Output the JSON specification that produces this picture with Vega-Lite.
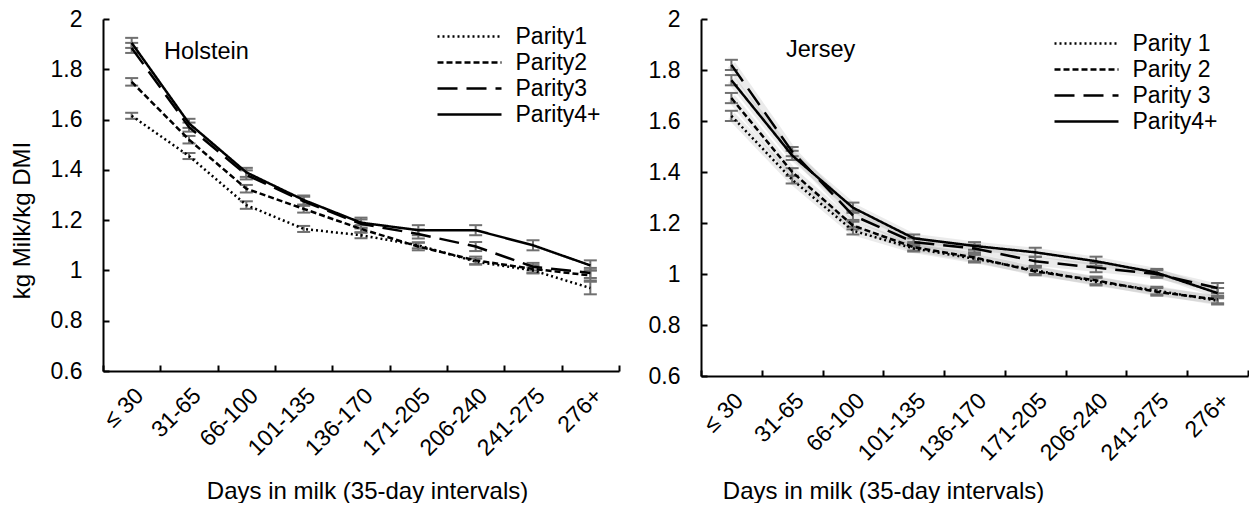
{
  "$schema": "https://vega.github.io/schema/vega-lite/v6.json",
  "background": "white",
  "padding": {"left": 10, "top": 8, "right": 0, "bottom": 0},
  "spacing": 28,
  "config": {
    "view": {"stroke": null},
    "font": "Liberation Sans",
    "axis": {
      "domainColor": "black", "domainWidth": 2, "tickColor": "black", "tickWidth": 2, "tickSize": -6,
      "labelFontSize": 23, "labelColor": "black", "titleFontSize": 24, "titleFontWeight": "normal", "titleColor": "black",
      "grid": false, "labelFont": "Liberation Sans", "titleFont": "Liberation Sans"
    },
    "legend": {
      "orient": "none", "title": null, "symbolType": "M-2.56,0H2.56", "symbolSize": 625, "symbolStrokeWidth": 2.5,
      "symbolStrokeColor": "black", "symbolFillColor": "transparent", "labelFontSize": 23, "labelColor": "black", "labelOffset": 32, "rowPadding": 0,
      "padding": 0, "labelFont": "Liberation Sans"
    },
    "title": {"fontSize": 23.5, "fontWeight": "normal", "color": "black", "font": "Liberation Sans"}
  },
  "datasets": {
    "holstein": [
      {"d": "≤ 30", "p": "Parity1", "v": 1.615, "lo": 1.603, "hi": 1.627},
      {"d": "31-65", "p": "Parity1", "v": 1.455, "lo": 1.443, "hi": 1.467},
      {"d": "66-100", "p": "Parity1", "v": 1.26, "lo": 1.245, "hi": 1.275},
      {"d": "101-135", "p": "Parity1", "v": 1.165, "lo": 1.153, "hi": 1.177},
      {"d": "136-170", "p": "Parity1", "v": 1.14, "lo": 1.128, "hi": 1.152},
      {"d": "171-205", "p": "Parity1", "v": 1.1, "lo": 1.088, "hi": 1.112},
      {"d": "206-240", "p": "Parity1", "v": 1.035, "lo": 1.023, "hi": 1.047},
      {"d": "241-275", "p": "Parity1", "v": 1.0, "lo": 0.988, "hi": 1.012},
      {"d": "276+", "p": "Parity1", "v": 0.93, "lo": 0.905, "hi": 0.955},
      {"d": "≤ 30", "p": "Parity2", "v": 1.75, "lo": 1.735, "hi": 1.765},
      {"d": "31-65", "p": "Parity2", "v": 1.52, "lo": 1.505, "hi": 1.535},
      {"d": "66-100", "p": "Parity2", "v": 1.325, "lo": 1.31, "hi": 1.34},
      {"d": "101-135", "p": "Parity2", "v": 1.245, "lo": 1.23, "hi": 1.26},
      {"d": "136-170", "p": "Parity2", "v": 1.165, "lo": 1.15, "hi": 1.18},
      {"d": "171-205", "p": "Parity2", "v": 1.095, "lo": 1.08, "hi": 1.11},
      {"d": "206-240", "p": "Parity2", "v": 1.04, "lo": 1.025, "hi": 1.055},
      {"d": "241-275", "p": "Parity2", "v": 1.006, "lo": 0.991, "hi": 1.021},
      {"d": "276+", "p": "Parity2", "v": 0.98, "lo": 0.96, "hi": 1.0},
      {"d": "≤ 30", "p": "Parity3", "v": 1.885, "lo": 1.865, "hi": 1.905},
      {"d": "31-65", "p": "Parity3", "v": 1.57, "lo": 1.552, "hi": 1.588},
      {"d": "66-100", "p": "Parity3", "v": 1.38, "lo": 1.362, "hi": 1.398},
      {"d": "101-135", "p": "Parity3", "v": 1.275, "lo": 1.257, "hi": 1.293},
      {"d": "136-170", "p": "Parity3", "v": 1.185, "lo": 1.167, "hi": 1.203},
      {"d": "171-205", "p": "Parity3", "v": 1.145, "lo": 1.127, "hi": 1.163},
      {"d": "206-240", "p": "Parity3", "v": 1.095, "lo": 1.077, "hi": 1.113},
      {"d": "241-275", "p": "Parity3", "v": 1.015, "lo": 1.0, "hi": 1.03},
      {"d": "276+", "p": "Parity3", "v": 0.99, "lo": 0.97, "hi": 1.01},
      {"d": "≤ 30", "p": "Parity4+", "v": 1.905, "lo": 1.885, "hi": 1.925},
      {"d": "31-65", "p": "Parity4+", "v": 1.585, "lo": 1.567, "hi": 1.603},
      {"d": "66-100", "p": "Parity4+", "v": 1.39, "lo": 1.372, "hi": 1.408},
      {"d": "101-135", "p": "Parity4+", "v": 1.28, "lo": 1.262, "hi": 1.298},
      {"d": "136-170", "p": "Parity4+", "v": 1.19, "lo": 1.17, "hi": 1.21},
      {"d": "171-205", "p": "Parity4+", "v": 1.16, "lo": 1.14, "hi": 1.18},
      {"d": "206-240", "p": "Parity4+", "v": 1.16, "lo": 1.14, "hi": 1.18},
      {"d": "241-275", "p": "Parity4+", "v": 1.1, "lo": 1.08, "hi": 1.12},
      {"d": "276+", "p": "Parity4+", "v": 1.02, "lo": 1.0, "hi": 1.04}
    ],
    "jersey": [
      {"d": "≤ 30", "p": "Parity 1", "v": 1.62, "lo": 1.6, "hi": 1.64},
      {"d": "31-65", "p": "Parity 1", "v": 1.37, "lo": 1.355, "hi": 1.385},
      {"d": "66-100", "p": "Parity 1", "v": 1.17, "lo": 1.155, "hi": 1.185},
      {"d": "101-135", "p": "Parity 1", "v": 1.1, "lo": 1.088, "hi": 1.112},
      {"d": "136-170", "p": "Parity 1", "v": 1.06, "lo": 1.045, "hi": 1.075},
      {"d": "171-205", "p": "Parity 1", "v": 1.015, "lo": 1.0, "hi": 1.03},
      {"d": "206-240", "p": "Parity 1", "v": 0.97, "lo": 0.955, "hi": 0.985},
      {"d": "241-275", "p": "Parity 1", "v": 0.935, "lo": 0.92, "hi": 0.95},
      {"d": "276+", "p": "Parity 1", "v": 0.895, "lo": 0.88, "hi": 0.91},
      {"d": "≤ 30", "p": "Parity 2", "v": 1.69, "lo": 1.67, "hi": 1.71},
      {"d": "31-65", "p": "Parity 2", "v": 1.4, "lo": 1.385, "hi": 1.415},
      {"d": "66-100", "p": "Parity 2", "v": 1.19, "lo": 1.175, "hi": 1.205},
      {"d": "101-135", "p": "Parity 2", "v": 1.105, "lo": 1.092, "hi": 1.118},
      {"d": "136-170", "p": "Parity 2", "v": 1.065, "lo": 1.05, "hi": 1.08},
      {"d": "171-205", "p": "Parity 2", "v": 1.01, "lo": 0.995, "hi": 1.025},
      {"d": "206-240", "p": "Parity 2", "v": 0.975, "lo": 0.96, "hi": 0.99},
      {"d": "241-275", "p": "Parity 2", "v": 0.93, "lo": 0.915, "hi": 0.945},
      {"d": "276+", "p": "Parity 2", "v": 0.9, "lo": 0.885, "hi": 0.915},
      {"d": "≤ 30", "p": "Parity 3", "v": 1.82, "lo": 1.8, "hi": 1.84},
      {"d": "31-65", "p": "Parity 3", "v": 1.48, "lo": 1.462, "hi": 1.498},
      {"d": "66-100", "p": "Parity 3", "v": 1.23, "lo": 1.212, "hi": 1.248},
      {"d": "101-135", "p": "Parity 3", "v": 1.125, "lo": 1.11, "hi": 1.14},
      {"d": "136-170", "p": "Parity 3", "v": 1.1, "lo": 1.085, "hi": 1.115},
      {"d": "171-205", "p": "Parity 3", "v": 1.05, "lo": 1.032, "hi": 1.068},
      {"d": "206-240", "p": "Parity 3", "v": 1.025, "lo": 1.007, "hi": 1.043},
      {"d": "241-275", "p": "Parity 3", "v": 1.0, "lo": 0.985, "hi": 1.015},
      {"d": "276+", "p": "Parity 3", "v": 0.945, "lo": 0.925, "hi": 0.965},
      {"d": "≤ 30", "p": "Parity4+", "v": 1.76, "lo": 1.74, "hi": 1.78},
      {"d": "31-65", "p": "Parity4+", "v": 1.465, "lo": 1.447, "hi": 1.483},
      {"d": "66-100", "p": "Parity4+", "v": 1.26, "lo": 1.24, "hi": 1.28},
      {"d": "101-135", "p": "Parity4+", "v": 1.14, "lo": 1.125, "hi": 1.155},
      {"d": "136-170", "p": "Parity4+", "v": 1.11, "lo": 1.095, "hi": 1.125},
      {"d": "171-205", "p": "Parity4+", "v": 1.085, "lo": 1.067, "hi": 1.103},
      {"d": "206-240", "p": "Parity4+", "v": 1.05, "lo": 1.032, "hi": 1.068},
      {"d": "241-275", "p": "Parity4+", "v": 1.005, "lo": 0.99, "hi": 1.02},
      {"d": "276+", "p": "Parity4+", "v": 0.925, "lo": 0.905, "hi": 0.945}
    ]
  },
  "hconcat": [
    {
      "width": 516, "height": 352,
      "data": {"name": "holstein"},
      "title": {"text": "Holstein", "anchor": "start", "frame": "group", "orient": "top", "baseline": "alphabetic", "offset": -74, "dx": 61},
      "encoding": {
        "x": {"field": "d", "type": "ordinal", "sort": ["≤ 30", "31-65", "66-100", "101-135", "136-170", "171-205", "206-240", "241-275", "276+"],
          "scale": {"type": "band", "paddingInner": 0, "paddingOuter": 0},
          "axis": {"title": "Days in milk (35-day intervals)", "labelAngle": -45, "tickBand": "extent", "labelPadding": 19,
            "titleX": 264, "titleY": 127, "titleBaseline": "alphabetic", "titleAlign": "center"}}
      },
      "layer": [
        {"mark": {"type": "rule", "color": "#707070", "strokeWidth": 2},
          "encoding": {"y": {"field": "lo", "type": "quantitative"}, "y2": {"field": "hi"}}},
        {"mark": {"type": "tick", "color": "#707070", "thickness": 2, "size": 13, "opacity": 1},
          "encoding": {"y": {"field": "lo", "type": "quantitative"}}},
        {"mark": {"type": "tick", "color": "#707070", "thickness": 2, "size": 13, "opacity": 1},
          "encoding": {"y": {"field": "hi", "type": "quantitative"}}},
        {"mark": {"type": "line", "color": "black", "strokeWidth": 2.5},
          "encoding": {
            "y": {"field": "v", "type": "quantitative", "scale": {"domain": [0.6, 2], "zero": false, "nice": false},
              "axis": {"title": "kg Milk/kg DMI", "values": [0.6, 0.8, 1, 1.2, 1.4, 1.6, 1.8, 2], "format": "~g", "labelPadding": 27,
                "titleX": -81, "titleY": 201, "titleBaseline": "middle", "titleAlign": "center", "titleAngle": -90}},
            "strokeDash": {"field": "p", "type": "nominal",
              "scale": {"domain": ["Parity1", "Parity2", "Parity3", "Parity4+"], "range": [[2, 3], [6, 3], [20, 9], [1, 0]]},
              "legend": {"legendX": 352.5, "legendY": 3.5}}
          }}
      ]
    },
    {
      "width": 547, "height": 357,
      "data": {"name": "jersey"},
      "title": {"text": "Jersey", "anchor": "start", "frame": "group", "orient": "top", "baseline": "alphabetic", "offset": -72, "dx": 85},
      "encoding": {
        "x": {"field": "d", "type": "ordinal", "sort": ["≤ 30", "31-65", "66-100", "101-135", "136-170", "171-205", "206-240", "241-275", "276+"],
          "scale": {"type": "band", "paddingInner": 0, "paddingOuter": 0},
          "axis": {"title": "Days in milk (35-day intervals)", "labelAngle": -45, "tickBand": "extent", "labelPadding": 19,
            "titleX": 182, "titleY": 122, "titleBaseline": "alphabetic", "titleAlign": "center"}}
      },
      "layer": [
        {"mark": {"type": "line", "color": "#000000", "strokeWidth": 9, "opacity": 0.08},
          "encoding": {"y": {"field": "v", "type": "quantitative"}, "detail": {"field": "p"}}},
        {"mark": {"type": "rule", "color": "#707070", "strokeWidth": 2},
          "encoding": {"y": {"field": "lo", "type": "quantitative"}, "y2": {"field": "hi"}}},
        {"mark": {"type": "tick", "color": "#707070", "thickness": 2, "size": 13, "opacity": 1},
          "encoding": {"y": {"field": "lo", "type": "quantitative"}}},
        {"mark": {"type": "tick", "color": "#707070", "thickness": 2, "size": 13, "opacity": 1},
          "encoding": {"y": {"field": "hi", "type": "quantitative"}}},
        {"mark": {"type": "line", "color": "black", "strokeWidth": 2.5},
          "encoding": {
            "y": {"field": "v", "type": "quantitative", "scale": {"domain": [0.6, 2], "zero": false, "nice": false},
              "axis": {"title": null, "values": [0.6, 0.8, 1, 1.2, 1.4, 1.6, 1.8, 2], "format": "~g", "labelPadding": 27}},
            "strokeDash": {"field": "p", "type": "nominal",
              "scale": {"domain": ["Parity 1", "Parity 2", "Parity 3", "Parity4+"], "range": [[2, 3], [6, 3], [20, 9], [1, 0]]},
              "legend": {"legendX": 371.5, "legendY": 10.5}}
          }}
      ]
    }
  ],
  "resolve": {"scale": {"strokeDash": "independent"}}
}
